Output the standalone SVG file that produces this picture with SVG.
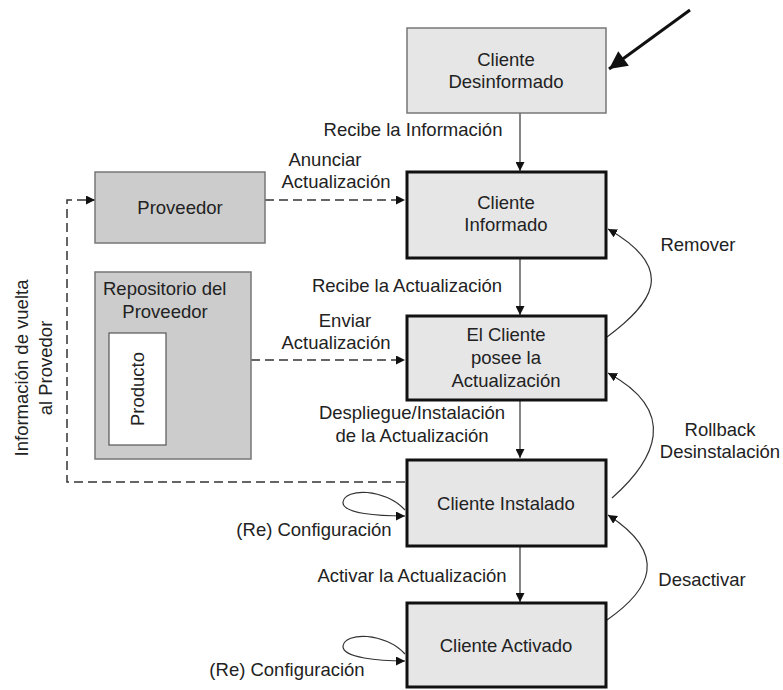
<svg xmlns="http://www.w3.org/2000/svg" width="783" height="690" viewBox="0 0 783 690">
  <style>
    text { font-family: "Liberation Sans", Arial, sans-serif; font-size: 18.5px; fill: #222; }
    .mid { text-anchor: middle; }
    .state { fill: #e6e6e6; stroke: #111; stroke-width: 3; }
    .start { fill: #e6e6e6; stroke: #777; stroke-width: 1.5; }
    .prov { fill: #cccccc; stroke: #777; stroke-width: 1.5; }
    .edge { fill: none; stroke: #333; stroke-width: 1.2; }
    .dash { fill: none; stroke: #333; stroke-width: 1.5; stroke-dasharray: 9 5; }
  </style>
  <defs>
    <marker id="head" viewBox="0 0 10 10" refX="10" refY="5" markerWidth="9" markerHeight="9" markerUnits="userSpaceOnUse" orient="auto">
      <path d="M0,0 L10,5 L0,10 z" fill="#111"/>
    </marker>
    <marker id="bighead" viewBox="0 0 10 10" refX="10" refY="5" markerWidth="7" markerHeight="6" orient="auto">
      <path d="M0,0 L10,5 L0,10 z" fill="#111"/>
    </marker>
  </defs>

  <rect width="783" height="690" fill="#fff"/>

  <g id="connectors">
    <!-- entry arrow -->
    <line x1="690" y1="10" x2="609" y2="69" stroke="#111" stroke-width="3" marker-end="url(#bighead)"/>
    <!-- main chain -->
    <line class="edge" x1="520" y1="113" x2="520" y2="171" marker-end="url(#head)"/>
    <line class="edge" x1="520" y1="259" x2="520" y2="315" marker-end="url(#head)"/>
    <line class="edge" x1="520" y1="401" x2="520" y2="458" marker-end="url(#head)"/>
    <line class="edge" x1="520" y1="546" x2="520" y2="602" marker-end="url(#head)"/>
    <!-- provider links -->
    <line class="dash" x1="265" y1="200" x2="405" y2="200" marker-end="url(#head)"/>
    <line class="dash" x1="251" y1="360" x2="405" y2="360" marker-end="url(#head)"/>
    <polyline class="dash" points="405,482 67,482 67,200 95,200" marker-end="url(#head)"/>
    <!-- backward transitions -->
    <path class="edge" d="M607,337 C650,305 680,270 608,229" marker-end="url(#head)"/>
    <path class="edge" d="M612,498 C655,460 680,412 608,373" marker-end="url(#head)"/>
    <path class="edge" d="M607,620 C650,590 670,555 608,515" marker-end="url(#head)"/>
    <!-- self loops -->
    <path class="edge" d="M405,510 C385,488 345,488 343,502 C342,514 380,516 405,516" marker-end="url(#head)"/>
    <path class="edge" d="M405,654 C385,632 345,632 343,646 C342,658 380,661 405,661" marker-end="url(#head)"/>
  </g>

  <g id="labels">
    <text class="mid" x="413" y="136">Recibe la Información</text>
    <text class="mid" x="325" y="166">Anunciar</text>
    <text class="mid" x="336" y="188">Actualización</text>
    <text class="mid" x="407" y="292">Recibe la Actualización</text>
    <text class="mid" x="345" y="327">Enviar</text>
    <text class="mid" x="336" y="349">Actualización</text>
    <text class="mid" x="412" y="419">Despliegue/Instalación</text>
    <text class="mid" x="412" y="442">de la Actualización</text>
    <text class="mid" x="314" y="536">(Re) Configuración</text>
    <text class="mid" x="412" y="582">Activar la Actualización</text>
    <text class="mid" x="287" y="676">(Re) Configuración</text>
    <text class="mid" x="698" y="251">Remover</text>
    <text class="mid" x="720" y="436">Rollback</text>
    <text class="mid" x="720" y="458">Desinstalación</text>
    <text class="mid" x="702" y="586">Desactivar</text>
    <text class="mid" transform="translate(28,368) rotate(-90)">Información de vuelta</text>
    <text class="mid" transform="translate(52,368) rotate(-90)">al Provedor</text>
  </g>

  <g id="cliente-desinformado">
    <rect class="start" x="407" y="28" width="199" height="85"/>
    <text class="mid" x="506" y="66">Cliente</text>
    <text class="mid" x="506" y="88">Desinformado</text>
  </g>

  <g id="cliente-informado">
    <rect class="state" x="407" y="172" width="199" height="86"/>
    <text class="mid" x="506" y="209">Cliente</text>
    <text class="mid" x="506" y="231">Informado</text>
  </g>

  <g id="cliente-posee">
    <rect class="state" x="407" y="316" width="199" height="84"/>
    <text class="mid" x="506" y="341">El Cliente</text>
    <text class="mid" x="506" y="364">posee la</text>
    <text class="mid" x="506" y="387">Actualización</text>
  </g>

  <g id="cliente-instalado">
    <rect class="state" x="407" y="460" width="199" height="86"/>
    <text class="mid" x="506" y="510">Cliente Instalado</text>
  </g>

  <g id="cliente-activado">
    <rect class="state" x="407" y="603" width="199" height="84"/>
    <text class="mid" x="506" y="652">Cliente Activado</text>
  </g>

  <g id="proveedor">
    <rect class="prov" x="95" y="172" width="170" height="71"/>
    <text class="mid" x="180" y="214">Proveedor</text>
  </g>

  <g id="repositorio">
    <rect class="prov" x="95" y="272" width="156" height="187"/>
    <text x="103" y="295">Repositorio del</text>
    <text class="mid" x="165" y="318">Proveedor</text>
    <g id="producto">
      <rect x="109" y="333" width="57" height="112" fill="#fff" stroke="#555" stroke-width="1.2"/>
      <text class="mid" transform="translate(144,389) rotate(-90)">Producto</text>
    </g>
  </g>
</svg>
